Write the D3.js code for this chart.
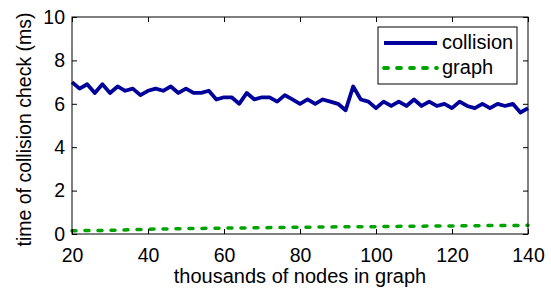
<!DOCTYPE html>
<html>
<head>
<meta charset="utf-8">
<script src="https://cdn.jsdelivr.net/npm/d3@7"></script>
<style>
  body { margin: 0; background: #fff; }
  svg { display: block; font-family: "Liberation Sans", Arial, sans-serif; }
</style>
</head>
<body>
<div id="chart"></div>
<script>
// collision check time, sampled every 2k nodes
const collisionX = d3.range(20, 141, 2);
const collisionY = [
  7.0, 6.7, 6.9, 6.5, 6.9, 6.5, 6.8, 6.6, 6.7, 6.4,
  6.6, 6.7, 6.6, 6.8, 6.5, 6.7, 6.5, 6.5, 6.6, 6.2,
  6.3, 6.3, 6.0, 6.5, 6.2, 6.3, 6.3, 6.1, 6.4, 6.2,
  6.0, 6.2, 6.0, 6.2, 6.1, 6.0, 5.7, 6.8, 6.2, 6.1,
  5.8, 6.1, 5.9, 6.1, 5.9, 6.2, 5.9, 6.1, 5.9, 6.0,
  5.8, 6.1, 5.9, 5.8, 6.0, 5.8, 6.0, 5.9, 6.0, 5.6,
  5.8
];
const graphX = [20, 30, 40, 50, 60, 70, 80, 90, 100, 110, 120, 130, 140];
const graphY = [0.15, 0.17, 0.22, 0.25, 0.27, 0.29, 0.31, 0.33, 0.34, 0.36, 0.37, 0.39, 0.40];
const xTicks = [20, 40, 60, 80, 100, 120, 140];
const yTicks = [0, 2, 4, 6, 8, 10];
const legendLabels = ['collision', 'graph'];

const W = 551, H = 292;
const margin = { top: 17, right: 23, bottom: 58, left: 72 };
const width = W - margin.left - margin.right;
const height = H - margin.top - margin.bottom;

const svg = d3.select('#chart').append('svg')
  .attr('width', W)
  .attr('height', H);

const g = svg.append('g')
  .attr('transform', `translate(${margin.left},${margin.top})`);

const x = d3.scaleLinear().domain([20, 140]).range([0, width]);
const y = d3.scaleLinear().domain([0, 10]).range([height, 0]);

// series
const line = d3.line().x(d => x(d[0])).y(d => y(d[1]));

g.append('path')
  .datum(graphX.map((v, i) => [v, graphY[i]]))
  .attr('d', line)
  .attr('fill', 'none')
  .attr('stroke', '#00a300')
  .attr('stroke-width', 3.5)
  .attr('stroke-linecap', 'round')
  .attr('stroke-dasharray', '4,9');

g.append('path')
  .datum(collisionX.map((v, i) => [v, collisionY[i]]))
  .attr('d', line)
  .attr('fill', 'none')
  .attr('stroke', '#00009a')
  .attr('stroke-width', 3.8)
  .attr('stroke-linejoin', 'round');

// axes, ticks drawn inward like matlab
const axisStyle = sel => {
  sel.select('.domain').remove();
  sel.selectAll('line').attr('stroke', '#000');
  sel.selectAll('text').attr('font-size', 19.5).attr('fill', '#000');
};

g.append('g')
  .attr('transform', `translate(0,${height})`)
  .call(d3.axisBottom(x).tickValues(xTicks).tickSizeInner(-5).tickSizeOuter(0).tickPadding(14))
  .call(axisStyle);

g.append('g')
  .call(d3.axisLeft(y).tickValues(yTicks).tickSizeInner(-5).tickSizeOuter(0).tickPadding(7))
  .call(axisStyle);

g.append('g')
  .call(d3.axisTop(x).tickValues(xTicks).tickSizeInner(-5).tickSizeOuter(0).tickFormat(''))
  .call(axisStyle);

g.append('g')
  .attr('transform', `translate(${width},0)`)
  .call(d3.axisRight(y).tickValues(yTicks).tickSizeInner(-5).tickSizeOuter(0).tickFormat(''))
  .call(axisStyle);

g.append('rect')
  .attr('width', width)
  .attr('height', height)
  .attr('fill', 'none')
  .attr('stroke', '#000')
  .attr('stroke-width', 1);

// axis titles
svg.append('text')
  .attr('x', margin.left + width / 2)
  .attr('y', 283)
  .attr('text-anchor', 'middle')
  .attr('font-size', 20)
  .text('thousands of nodes in graph');

svg.append('text')
  .attr('transform', `translate(31,${margin.top + height / 2 + 4}) rotate(-90)`)
  .attr('text-anchor', 'middle')
  .attr('font-size', 19.5)
  .text('time of collision check (ms)');

// legend
const legend = svg.append('g').attr('transform', 'translate(378,27)');
legend.append('rect')
  .attr('width', 139)
  .attr('height', 57)
  .attr('fill', '#fff')
  .attr('stroke', '#000');

const styles = [
  { color: '#00009a', dash: null },
  { color: '#00a300', dash: '4,9' }
];
legendLabels.forEach((label, i) => {
  const row = legend.append('g').attr('transform', `translate(0,${16 + i * 25})`);
  row.append('line')
    .attr('x1', 6).attr('x2', 59)
    .attr('stroke', styles[i].color)
    .attr('stroke-width', 3.8)
    .attr('stroke-linecap', styles[i].dash ? 'round' : 'butt')
    .attr('stroke-dasharray', styles[i].dash);
  row.append('text')
    .attr('x', 64)
    .attr('y', 5.5)
    .attr('font-size', 20)
    .text(label);
});
</script>
</body>
</html>
